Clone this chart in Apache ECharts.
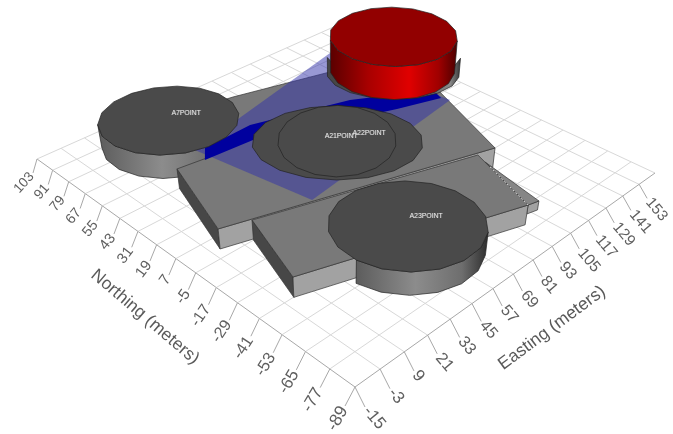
<!DOCTYPE html>
<html>
<head>
<meta charset="utf-8">
<style>html,body{margin:0;background:#fff}#chart{width:673px;height:434px}</style>
<script src="https://cdn.jsdelivr.net/npm/echarts@6/dist/echarts.min.js"></script>
</head>
<body>
<div id="chart"></div>
<script>
// axis ticks, meters
const eastTicks = [-15, -3, 9, 21, 33, 45, 57, 69, 81, 93, 105, 117, 129, 141, 153]
const northTicks = [-89, -77, -65, -53, -41, -29, -17, -5, 7, 19, 31, 43, 55, 67, 79, 91, 103]
const eastEnd = 165

// footprints [easting, northing]: first corner, front corner, then the rest
const building1 = [[14.7, 42.9], [0.7, -0.2], [119.3, -37.9], [139.2, 12.9], [115.1, 57.3], [68.1, 71.2], [55.4, 73.9], [28.5, 40.7]]
const building2 = [[13.5, -4.9], [1.5, -41.1], [96.6, -73.0], [110.0, -36.3]]
const annex = [[106.7, -45.6], [96.6, -73.0], [101.8, -74.3], [108.1, -41.8]]
const plume = [[128.0, 70.6], [28.7, 48.9], [38.9, -11.4], [135.7, 1.3]]
const band = [[32.7, 47.2], [58.0, 47.8], [103.7, 32.7], [136.9, 12.6], [134.1, 5.3], [113.0, 12.6], [51.0, 37.8], [26.9, 40.1]]

// heights, meters
const roofHeight = 10
const annexBase = 5.5

// sources
const sourceNames = ['A7POINT', 'A21POINT', 'A22POINT', 'A23POINT']
const sourceLabelEast = [42.7, 77.6, 87.7, 60.8]
const sourceLabelNorth = [72.3, 11.8, 5.2, -51.5]
const stackEast = [34.3, 75.4, 76.0, 52.6]
const stackNorth = [73.5, 11.7, 12.6, -49.7]
const stackRadiusA = [21.3, 25.5, 17.7, 21.5]
const stackRadiusB = [20.0, 20.5, 19.8, 20.3]
const stackBase = [0, 10, 10, 0]
const stackTop = [12, 10.5, 10.6, 11.5]

const redEast = 120.2
const redNorth = 22.9
const redRadius = [19.5, 19.5]
const redBase = 24
const redTop = 40
const baseEast = 135.8
const baseNorth = 36.6
const baseRadius = [21.8, 17.5]
const baseBottom = 10
const baseTop = 20

// camera: ground square to page pixels, plus a vertical vanishing point
const cam = { a: 482.25, b: -307.28, c: 355, d: -165.86, e: -181.94, f: 387, g: 0.27824, h: 0.28971, k: 0.0019, vx: 340, vy: 1450 }

function depth(east, north) {
  const u = (east + 15) / 180
  const v = (north + 89) / 192
  return cam.g * u + cam.h * v + 1
}

function project(east, north, z) {
  const u = (east + 15) / 180
  const v = (north + 89) / 192
  const s = -z * cam.k
  const w = cam.g * u + cam.h * v + 1 + s
  return [
    (cam.a * u + cam.b * v + cam.c + s * cam.vx) / w,
    (cam.d * u + cam.e * v + cam.f + s * cam.vy) / w
  ]
}

function ring(cx, cy, ra, rb) {
  const pts = []
  for (let i = 0; i < 18; i++) {
    const t = (i + 0.5) / 18 * Math.PI * 2
    const da = ra * Math.cos(t)
    const db = rb * Math.sin(t)
    pts.push([cx + da - db, cy - da - db])
  }
  return pts
}

function polygon(points, fill, stroke, lineWidth) {
  return {
    type: 'polygon',
    shape: { points },
    style: { fill, stroke: stroke || null, lineWidth: lineWidth || 0.7 }
  }
}

function line(p, q, stroke, lineWidth, dash) {
  return {
    type: 'line',
    shape: { x1: p[0], y1: p[1], x2: q[0], y2: q[1] },
    style: { stroke, lineWidth: lineWidth || 1, lineDash: dash || null }
  }
}

function text(p, content, rotation, align, size, color, extra) {
  return {
    type: 'text',
    x: p[0],
    y: p[1],
    rotation: rotation * Math.PI / 180,
    style: Object.assign({
      text: content,
      align,
      verticalAlign: 'middle',
      fill: color,
      font: size + 'px "Liberation Sans", Arial, sans-serif'
    }, extra || {})
  }
}

const toPage = (api, p) => api.coord(p)

function wall(api, p, q, zTop, zBase, fill) {
  const pts = [project(p[0], p[1], zTop), project(q[0], q[1], zTop), project(q[0], q[1], zBase), project(p[0], p[1], zBase)]
  return polygon(pts.map(x => toPage(api, x)), fill, '#333')
}

function roof(api, corners, z, fill) {
  return polygon(corners.map(c => toPage(api, project(c[0], c[1], z))), fill, '#333')
}

function sideGradient(stops) {
  return new echarts.graphic.LinearGradient(0, 0, 1, 0, stops.map(c => ({ offset: c[0], color: c[1] })))
}

// silhouette of the near side of a round stack, keep() drops the part inside a building
function drum(api, cx, cy, ra, rb, zTop, zBase, stops, keep) {
  const world = ring(cx, cy, ra, rb)
  const top = world.map(c => project(c[0], c[1], zTop))
  const bottom = world.map(c => project(c[0], c[1], zBase))
  let left = 0
  let right = 0
  top.forEach((p, i) => {
    if (p[0] < top[left][0]) left = i
    if (p[0] > top[right][0]) right = i
  })
  const n = top.length
  const next = top[(left + 1) % n][1] > top[(left + n - 1) % n][1] ? 1 : n - 1
  let idx = []
  for (let i = left; ; i = (i + next) % n) {
    idx.push(i)
    if (i === right) break
  }
  if (keep) idx = idx.filter(i => keep(world[i]))
  const pts = idx.map(i => top[i]).concat(idx.slice().reverse().map(i => bottom[i]))
  return polygon(pts.map(p => toPage(api, p)), sideGradient(stops), '#222')
}

function disc(api, cx, cy, ra, rb, z, fill) {
  return polygon(ring(cx, cy, ra, rb).map(c => toPage(api, project(c[0], c[1], z))), fill, '#222')
}

// true for points on the outer side of the building2 front wall
function outsideFront(c) {
  const p = building2[1]
  const q = building2[2]
  return (q[0] - p[0]) * (c[1] - p[1]) - (q[1] - p[1]) * (c[0] - p[0]) < 0
}

const greyStops = [[0, '#5c5c5c'], [0.45, '#8c8c8c'], [0.8, '#6e6e6e'], [1, '#2c2c2c']]
const redStops = [[0, '#5a0000'], [0.3, '#a80000'], [0.62, '#e00000'], [0.85, '#a00000'], [1, '#4a0000']]
const baseStops = [[0, '#444'], [0.7, '#5c5c5c'], [0.92, '#8a8a8a'], [1, '#333']]

function drawGround(api) {
  const out = []
  const lastNorth = northTicks[northTicks.length - 1]
  eastTicks.concat([eastEnd]).forEach(east => {
    out.push(line(toPage(api, project(east, northTicks[0], 0)), toPage(api, project(east, lastNorth, 0)), east === eastTicks[0] ? '#a8a8a8' : '#d8d8d8'))
  })
  northTicks.forEach(north => {
    out.push(line(toPage(api, project(eastTicks[0], north, 0)), toPage(api, project(eastEnd, north, 0)), north === northTicks[0] ? '#a8a8a8' : '#d8d8d8'))
  })
  northTicks.forEach((north, i) => {
    const t = i / (northTicks.length - 1)
    const p = project(eastTicks[0], north, 0)
    const tip = [p[0] - 10 + 6 * t, p[1] + 19 - 5 * t]
    const rot = 60 - 12 * t
    const r = rot * Math.PI / 180
    const w = depth(eastTicks[0], north)
    out.push(line(toPage(api, p), toPage(api, tip), '#a8a8a8'))
    out.push(text(toPage(api, [tip[0] - 2 * Math.cos(r), tip[1] + 2 * Math.sin(r)]), String(north), rot, 'right', (17.5 / w).toFixed(1), '#5f5f5f'))
  })
  eastTicks.forEach((east, i) => {
    const t = i / (eastTicks.length - 1)
    const p = project(east, northTicks[0], 0)
    const tip = [p[0] + 10 - 2 * t, p[1] + 20 - 6 * t]
    const r = 50 * Math.PI / 180
    const w = depth(east, northTicks[0])
    out.push(line(toPage(api, p), toPage(api, tip), '#a8a8a8'))
    out.push(text(toPage(api, [tip[0] + 2 * Math.cos(r), tip[1] + 2 * Math.sin(r)]), String(east), -50, 'left', (17 / Math.sqrt(w)).toFixed(1), '#5f5f5f'))
  })
  out.push(text(toPage(api, [145, 317]), 'Northing (meters)', -40.5, 'center', 17.5, '#5a5a5a'))
  out.push(text(toPage(api, [552, 328]), 'Easting (meters)', 36.6, 'center', 17.5, '#5a5a5a'))
  return out
}

function drawBack(api) {
  return [
    drum(api, stackEast[0], stackNorth[0], stackRadiusA[0], stackRadiusB[0], stackTop[0], stackBase[0], greyStops),
    wall(api, building1[0], building1[1], roofHeight, 0, '#474747'),
    wall(api, building1[1], building1[2], roofHeight, 0, '#a2a2a2'),
    roof(api, building1, roofHeight, '#797979'),
    polygon(plume.map(c => toPage(api, project(c[0], c[1], roofHeight))), 'rgba(50,50,170,0.5)'),
    polygon(band.map(c => toPage(api, project(c[0], c[1], roofHeight))), '#00009e')
  ]
}

function drawRed(api) {
  return [
    drum(api, baseEast, baseNorth, baseRadius[0], baseRadius[1], baseTop, baseBottom, baseStops),
    drum(api, redEast, redNorth, redRadius[0], redRadius[1], redTop, redBase, redStops),
    disc(api, redEast, redNorth, redRadius[0], redRadius[1], redTop, '#920000')
  ]
}

function drawFront(api) {
  const out = [
    wall(api, annex[1], annex[2], roofHeight, annexBase, '#a2a2a2'),
    roof(api, annex, roofHeight, '#868686'),
    disc(api, stackEast[0], stackNorth[0], stackRadiusA[0], stackRadiusB[0], stackTop[0], '#4a4a4a'),
    disc(api, stackEast[1], stackNorth[1], stackRadiusA[1], stackRadiusB[1], stackTop[1], '#4a4a4a'),
    disc(api, stackEast[2], stackNorth[2], stackRadiusA[2], stackRadiusB[2], stackTop[2], '#4a4a4a'),
    wall(api, building2[0], building2[1], roofHeight, 0, '#474747'),
    wall(api, building2[1], building2[2], roofHeight, 0, '#a2a2a2'),
    roof(api, building2, roofHeight, '#797979'),
    line(toPage(api, project(annex[0][0], annex[0][1], roofHeight)), toPage(api, project(annex[1][0], annex[1][1], roofHeight)), '#d8d8d8', 1, [2, 2]),
    drum(api, stackEast[3], stackNorth[3], stackRadiusA[3], stackRadiusB[3], stackTop[3], stackBase[3], greyStops, outsideFront),
    disc(api, stackEast[3], stackNorth[3], stackRadiusA[3], stackRadiusB[3], stackTop[3], '#4a4a4a')
  ]
  sourceNames.forEach((name, i) => {
    const p = project(sourceLabelEast[i], sourceLabelNorth[i], 12)
    out.push(text(toPage(api, [p[0] + 0.7, p[1] + 0.5]), name, 0, 'center', 6.8, '#8a8a8a', { fontStyle: 'italic' }))
    out.push(text(toPage(api, p), name, 0, 'center', 6.8, '#e4e4e4', { fontStyle: 'italic' }))
  })
  return out
}

function layer(draw) {
  return {
    type: 'custom',
    coordinateSystem: 'cartesian2d',
    silent: true,
    clip: false,
    animation: false,
    data: [[0, 0]],
    renderItem: (params, api) => ({ type: 'group', children: draw(api) })
  }
}

const chart = echarts.init(document.getElementById('chart'))
chart.setOption({
  animation: false,
  backgroundColor: '#fff',
  grid: { left: 0, right: 0, top: 0, bottom: 0 },
  xAxis: { type: 'value', min: 0, max: 673, show: false },
  yAxis: { type: 'value', min: 0, max: 434, inverse: true, show: false },
  series: [drawGround, drawBack, drawRed, drawFront].map(layer)
})
</script>
</body>
</html>
